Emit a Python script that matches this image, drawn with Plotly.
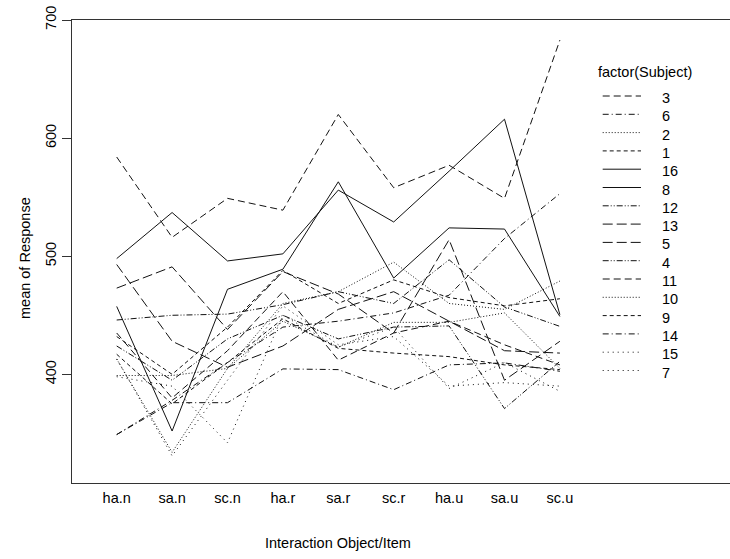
import plotly.graph_objects as go

categories = ["ha.n", "sa.n", "sc.n", "ha.r", "sa.r", "sc.r", "ha.u", "sa.u", "sc.u"]
subjects = ["3", "6", "2", "1", "16", "8", "12", "13", "5", "4", "11", "10", "9", "14", "15", "7"]

s3 = [584, 516, 549, 539, 620, 558, 577, 549, 683]
s6 = [349, 378, 410, 440, 445, 452, 467, 515, 553]
s2 = [413, 334, 405, 460, 470, 495, 460, 455, 479]
s1 = [432, 400, 440, 488, 460, 480, 465, 458, 464]
s16 = [498, 537, 496, 502, 556, 529, 572, 616, 450.5]
s8 = [457.5, 352, 472, 489, 563, 481.5, 524, 523, 449]
s12 = [446, 450, 451, 459, 470, 460, 497, 457, 440.6]
s13 = [473, 491, 438, 487, 468, 435, 514, 395, 428]
s5 = [493, 428, 406, 424, 455, 470, 445, 420, 418]
s4 = [424, 395, 430, 450, 430, 440, 441, 371, 411]
s11 = [435, 380, 420, 470, 412, 435, 445, 425, 408]
s10 = [399, 399, 405, 445, 423, 444, 444, 452, 405]
s9 = [417, 375, 410, 447, 422, 418, 415, 408, 404]
s14 = [349, 376, 376, 404.6, 404, 387, 408, 409.7, 402.6]
s15 = [413, 331, 395, 458, 425, 432, 390, 393, 390]
s7 = [398, 390, 342, 450, 423, 440, 388, 410, 385.6]

series = {"3": s3, "6": s6, "2": s2, "1": s1, "16": s16, "8": s8, "12": s12,
          "13": s13, "5": s5, "4": s4, "11": s11, "10": s10, "9": s9,
          "14": s14, "15": s15, "7": s7}

# S-PLUS style line types (8 types cycling)
dash_types = ["solid", "1px,4px", "6px,3px,1px,3px", "10px,4px",
              "6px,2px,1px,2px,1px,2px", "7px,4px", "1px,2px", "4px,3px"]

def dash_for(subj):
    k = int(subj)
    return dash_types[(16 - k) % 8]

FONT = "Liberation Sans, Arial, sans-serif"
W, H = 730, 559
L, R, T, B = 72, 0, 20, 76
pw, ph = W - L - R, H - T - B

x_idx = list(range(len(categories)))
fig = go.Figure()
for subj in subjects:
    fig.add_trace(go.Scatter(
        x=x_idx, y=series[subj], mode="lines", name=subj, showlegend=False,
        line=dict(color="#111111", width=1, dash=dash_for(subj))))

# legend ordered by last value, as interaction.plot does
order = sorted(series.keys(), key=lambda s: -series[s][-1])

def px_to_paper(px, py):
    return (px - L) / pw, (H - B - py) / ph

shapes = []
annotations = []
tx, ty = px_to_paper(596, 72)
annotations.append(dict(text="factor(Subject)", x=tx, y=ty, xref="paper", yref="paper",
                        xanchor="left", yanchor="middle", showarrow=False,
                        font=dict(family=FONT, size=14.5, color="#000")))
for i, subj in enumerate(order):
    ly = 96 + i * 18.3
    x0, y0 = px_to_paper(602.7, ly)
    x1, _ = px_to_paper(641, ly)
    shapes.append(dict(type="line", xref="paper", yref="paper", x0=x0, x1=x1, y0=y0, y1=y0,
                       line=dict(color="#111111", width=1, dash=dash_for(subj))))
    ax, ay = px_to_paper(660, ly + 2)
    annotations.append(dict(text=subj, x=ax, y=ay, xref="paper", yref="paper",
                            xanchor="left", yanchor="middle", showarrow=False,
                            font=dict(family=FONT, size=14.5, color="#000")))

# axis titles
ax_, ay_ = px_to_paper(25, 258)
annotations.append(dict(text="mean of Response", x=ax_, y=ay_, xref="paper", yref="paper",
                        textangle=-90, xanchor="center", yanchor="middle", showarrow=False,
                        font=dict(family=FONT, size=14.5, color="#000")))
bx, by = px_to_paper(338, 543)
annotations.append(dict(text="Interaction Object/Item", x=bx, y=by, xref="paper", yref="paper",
                        xanchor="center", yanchor="middle", showarrow=False,
                        font=dict(family=FONT, size=14.5, color="#000")))

px_per_unit = 55.4
x0_px = 116.7
xmin = (L - x0_px) / px_per_unit
xmax = (W - x0_px) / px_per_unit

fig.update_layout(
    width=W, height=H, margin=dict(l=L, r=R, t=T, b=B, autoexpand=False),
    paper_bgcolor="white", plot_bgcolor="white",
    font=dict(family=FONT, size=14.5, color="#000"),
    shapes=shapes, annotations=annotations, showlegend=False,
    xaxis=dict(range=[xmin, xmax], tickvals=x_idx, ticktext=categories,
               showgrid=False, zeroline=False, showline=True, mirror=True,
               linecolor="#333", linewidth=1, ticks="outside", ticklen=2,
               tickcolor="rgba(0,0,0,0)", tickfont=dict(family=FONT, size=14.5)),
    yaxis=dict(range=[308, 700], tickvals=[400, 500, 600, 700],
               showgrid=False, zeroline=False, showline=True, mirror=False,
               linecolor="#333", linewidth=1, ticks="outside", ticklen=9,
               tickcolor="#333", tickangle=-90, tickfont=dict(family=FONT, size=14.5)),
)

fig.write_html("out.html")
